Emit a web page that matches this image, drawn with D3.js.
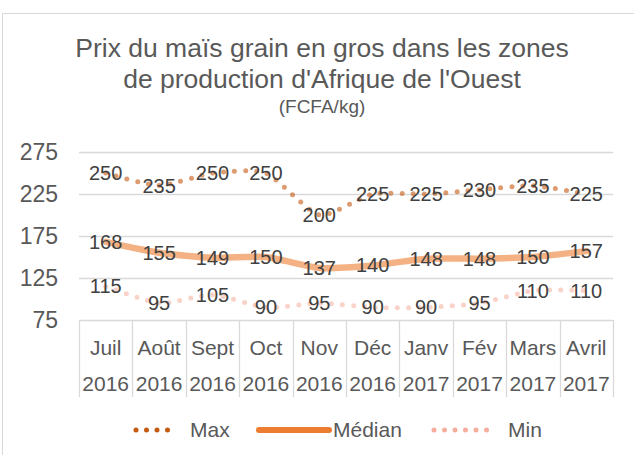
<!DOCTYPE html>
<html>
<head>
<meta charset="utf-8">
<script src="https://cdn.jsdelivr.net/npm/d3@7"></script>
<style>
  body { margin: 0; background: #fff; }
  text { font-family: "Liberation Sans", Arial, sans-serif; fill: #595959; }
</style>
</head>
<body>
<div id="chart"></div>
<script>
var width = 634
var height = 455

// data
const months = ["Juil", "Août", "Sept", "Oct", "Nov", "Déc", "Janv", "Fév", "Mars", "Avril"];
const years = ["2016", "2016", "2016", "2016", "2016", "2016", "2017", "2017", "2017", "2017"];
const maxVals = [250, 235, 250, 250, 200, 225, 225, 230, 235, 225];
const medVals = [168, 155, 149, 150, 137, 140, 148, 148, 150, 157];
const minVals = [115, 95, 105, 90, 95, 90, 90, 95, 110, 110];
const yTicks = [75, 125, 175, 225, 275];

const series = [
    {name: "Max", values: maxVals, color: "#C55A11", dotted: true},
    {name: "Médian", values: medVals, color: "#ED7D31", dotted: false},
    {name: "Min", values: minVals, color: "#F4AE9C", dotted: true}
];

const svg = d3.select("#chart")
    .append("svg")
    .attr("width", width)
    .attr("height", height);

// outer frame
svg.append("rect")
    .attr("x", 2.5).attr("y", 13.5)
    .attr("width", 660).attr("height", 480)
    .attr("fill", "#fff")
    .attr("stroke", "#D9D9D9");

// title
svg.append("text").attr("x", 322).attr("y", 57)
    .attr("text-anchor", "middle").style("font-size", "26.5px")
    .text("Prix du maïs grain en gros dans les zones");
svg.append("text").attr("x", 322).attr("y", 88)
    .attr("text-anchor", "middle").style("font-size", "26.5px")
    .text("de production d'Afrique de l'Ouest");
svg.append("text").attr("x", 322).attr("y", 113)
    .attr("text-anchor", "middle").style("font-size", "19px")
    .text("(FCFA/kg)");

const x = d3.scaleBand().domain(d3.range(months.length)).range([79, 613]);
const y = d3.scaleLinear().domain([75, 275]).range([320, 152]);

// gridlines
svg.append("g")
    .selectAll("line")
    .data(yTicks)
    .enter()
    .append("line")
    .attr("x1", 79).attr("x2", 613)
    .attr("y1", d => Math.round(y(d)) + 0.5)
    .attr("y2", d => Math.round(y(d)) + 0.5)
    .attr("stroke", "#D9D9D9")
    .attr("stroke-width", 1.3);

// y tick labels
svg.append("g")
    .selectAll("text")
    .data(yTicks)
    .enter()
    .append("text")
    .attr("x", 58)
    .attr("y", d => y(d))
    .attr("dy", "0.35em")
    .attr("text-anchor", "end")
    .style("font-size", "23px")
    .text(d => d);

// category box lines under the axis
const xg = svg.append("g");
xg.selectAll("line")
    .data(d3.range(months.length + 1))
    .enter()
    .append("line")
    .attr("x1", i => Math.round(79 + i * x.step()) + 0.5)
    .attr("x2", i => Math.round(79 + i * x.step()) + 0.5)
    .attr("y1", 320).attr("y2", 397)
    .attr("stroke", "#D9D9D9")
    .attr("stroke-width", 1.3);

xg.selectAll(".m")
    .data(months)
    .enter()
    .append("text")
    .attr("class", "m")
    .attr("x", (d, i) => x(i) + x.bandwidth() / 2)
    .attr("y", 355)
    .attr("text-anchor", "middle")
    .style("font-size", "21px")
    .text(d => d);

xg.selectAll(".yr")
    .data(years)
    .enter()
    .append("text")
    .attr("class", "yr")
    .attr("x", (d, i) => x(i) + x.bandwidth() / 2)
    .attr("y", 391)
    .attr("text-anchor", "middle")
    .style("font-size", "21px")
    .text(d => d);

const line = d3.line()
    .x((d, i) => x(i) + x.bandwidth() / 2)
    .y(d => y(d))
    .curve(d3.curveCardinal.tension(0.4));

// series lines
series.forEach(function(s) {
    svg.append("path")
        .attr("d", line(s.values))
        .attr("fill", "none")
        .attr("stroke", s.color)
        .attr("stroke-opacity", s.name == "Min" ? 0.55 : 0.6)
        .attr("stroke-width", s.dotted ? 5 : 6.5)
        .attr("stroke-linecap", "round")
        .attr("stroke-dasharray", s.dotted ? "0,11" : null);
});

// data labels
series.forEach(function(s) {
    svg.append("g")
        .selectAll("text")
        .data(s.values)
        .enter()
        .append("text")
        .attr("x", (d, i) => x(i) + x.bandwidth() / 2)
        .attr("y", d => y(d))
        .attr("dy", "0.35em")
        .attr("text-anchor", "middle")
        .style("font-size", "20px")
        .style("fill", "#404040")
        .text(d => d);
});

// legend
const legend = [
    {s: series[0], x0: 136, x1: 178, tx: 190},
    {s: series[1], x0: 259, x1: 329, tx: 333},
    {s: series[2], x0: 434, x1: 495, tx: 508}
];
legend.forEach(function(l) {
    svg.append("line")
        .attr("x1", l.x0).attr("x2", l.x1)
        .attr("y1", 430).attr("y2", 430)
        .attr("stroke", l.s.color)
        .attr("stroke-width", l.s.dotted ? 5 : 6)
        .attr("stroke-linecap", "round")
        .attr("stroke-dasharray", l.s.dotted ? "0,10.5" : null);
    svg.append("text")
        .attr("x", l.tx).attr("y", 430)
        .attr("dy", "0.35em")
        .style("font-size", "21px")
        .text(l.s.name);
});
</script>
</body>
</html>
